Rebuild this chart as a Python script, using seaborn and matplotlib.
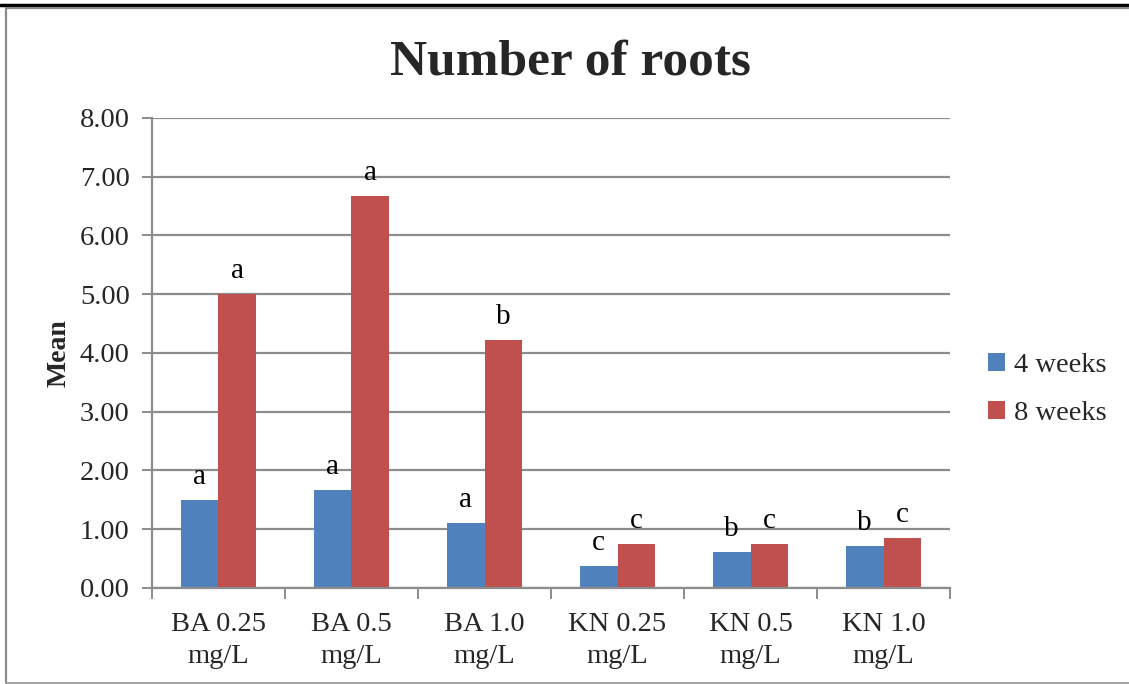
import matplotlib
matplotlib.use("Agg")
import matplotlib.pyplot as plt
from matplotlib.lines import Line2D
from matplotlib.patches import Rectangle
import seaborn as sns
import pandas as pd
import numpy as np

# Treatments and mean root counts
categories = ["BA 0.25\nmg/L", "BA 0.5\nmg/L", "BA 1.0\nmg/L",
              "KN 0.25\nmg/L", "KN 0.5\nmg/L", "KN 1.0\nmg/L"]
periods = ["4 weeks", "8 weeks"]
mean_4wk = [1.50, 1.67, 1.11, 0.37, 0.62, 0.71]
mean_8wk = [5.00, 6.67, 4.22, 0.75, 0.75, 0.85]
letters_4wk = ["a", "a", "a", "c", "b", "b"]
letters_8wk = ["a", "a", "b", "c", "c", "c"]
y_ticks = [0, 1, 2, 3, 4, 5, 6, 7, 8]

colors = ["#4F81BD", "#C0504D"]
grid_gray = "#8C8C8C"

df = pd.DataFrame({
    "Treatment": categories * 2,
    "Period": [periods[0]] * len(categories) + [periods[1]] * len(categories),
    "Mean": mean_4wk + mean_8wk,
})

sns.set_theme(style="white")
plt.rcParams["font.family"] = ["Liberation Serif", "DejaVu Serif"]

fig = plt.figure(figsize=(11.29, 6.84), dpi=100)
ax = fig.add_axes([0.1346, 0.1404, 0.7069, 0.6871])

sns.barplot(data=df, x="Treatment", y="Mean", hue="Period", order=categories,
            hue_order=periods, palette=colors, width=0.57, linewidth=0,
            saturation=1, ax=ax, legend=False, errorbar=None)

ax.set_ylim(0, 8)
ax.set_xlim(-0.5, len(categories) - 0.5)
ax.set_yticks(y_ticks)
ax.set_yticklabels([f"{v:.2f}" for v in y_ticks], fontsize=20.5)
ax.set_xticks(range(len(categories)))
ax.set_xticklabels(categories, fontsize=20.5, linespacing=1.38)
ax.set_axisbelow(True)
ax.yaxis.grid(True, color=grid_gray, linewidth=1.6)
ax.xaxis.grid(False)

# Category boundary ticks on the x axis
ax.set_xticks(np.arange(-0.5, len(categories), 1.0), minor=True)
ax.tick_params(axis="x", which="minor", length=8, width=1.4, color=grid_gray,
               direction="out", bottom=True)
ax.tick_params(axis="x", which="major", length=0, pad=17)
ax.tick_params(axis="y", which="major", length=7, width=1.4, color=grid_gray,
               direction="out", left=True, pad=9)

for side in ["top", "right"]:
    ax.spines[side].set_visible(False)
for side in ["left", "bottom"]:
    ax.spines[side].set_color(grid_gray)
    ax.spines[side].set_linewidth(1.6)

ax.set_xlabel("")
ax.set_ylabel("Mean", fontsize=20, fontweight="bold", labelpad=6)

# Significance letters above each bar
for container, letters in zip(ax.containers, [letters_4wk, letters_8wk]):
    for bar, letter in zip(container, letters):
        ax.text(bar.get_x() + bar.get_width() / 2, bar.get_height() + 0.17,
                letter, ha="center", va="bottom", fontsize=21, color="black")

fig.text(0.505, 0.908, "Number of roots", ha="center", va="center",
         fontsize=37, fontweight="bold")

handles = [Rectangle((0, 0), 1, 1, facecolor=c, edgecolor="none") for c in colors]
fig.legend(handles, periods, loc="center left", bbox_to_anchor=(0.8575, 0.4305),
           frameon=False, fontsize=20.5, handlelength=0.6, handleheight=0.6,
           handletextpad=0.3, labelspacing=0.8, borderpad=0.2)

# Outer frame
fig.add_artist(Line2D([0, 1], [1 - 4.5 / 684, 1 - 4.5 / 684],
                      transform=fig.transFigure, color="black", linewidth=2.5))
fig.add_artist(Line2D([5.5 / 1129, 1], [1 - 8 / 684, 1 - 8 / 684],
                      transform=fig.transFigure, color="#8A8A8A", linewidth=1.6))
fig.add_artist(Line2D([5.5 / 1129, 5.5 / 1129], [1 - 8 / 684, 1.2 / 684],
                      transform=fig.transFigure, color="#8A8A8A", linewidth=1.6))
fig.add_artist(Line2D([5.5 / 1129, 1], [1.2 / 684, 1.2 / 684],
                      transform=fig.transFigure, color="#A0A0A0", linewidth=1.4))

fig.savefig("out.png", dpi=100, facecolor="white")
